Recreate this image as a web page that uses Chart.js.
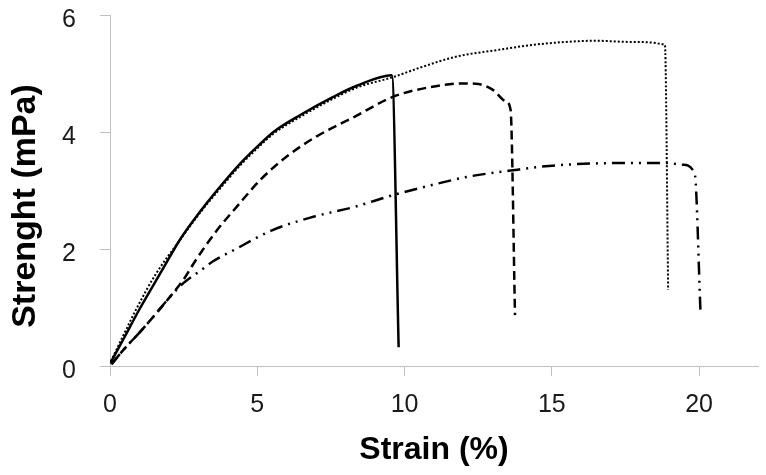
<!DOCTYPE html>
<html>
<head>
<meta charset="utf-8">
<script src="https://cdn.jsdelivr.net/npm/chart.js@4.4.1/dist/chart.umd.min.js"></script>
<style>
  html, body { margin: 0; padding: 0; background: #fff; }
  canvas { display: block; }
</style>
</head>
<body>
<canvas id="stressChart" width="766" height="475"></canvas>
<script>
// Strain (%) / strength (mPa) pairs
const solidStrain = [0.01, 0.5, 1, 1.75, 2.4, 3.06, 3.63, 4.42, 5, 5.55, 6.46, 7.58, 8.38, 9.57, 9.8];
const solidStrength = [0.05, 0.5, 0.97, 1.62, 2.18, 2.64, 3.0, 3.46, 3.75, 4.0, 4.29, 4.6, 4.79, 4.97, 0.32];

const dottedStrain = [0.03, 0.45, 0.9, 1.54, 2.4, 3.06, 3.63, 4.42, 5, 5.55, 6.46, 7.58, 8.38, 9.62, 10.64, 11.77, 13.13, 14.37, 15.5, 16.52, 17.65, 18.84, 18.95];
const dottedStrength = [0.08, 0.52, 0.98, 1.56, 2.17, 2.62, 2.97, 3.43, 3.72, 3.97, 4.26, 4.57, 4.76, 4.94, 5.12, 5.29, 5.4, 5.49, 5.54, 5.56, 5.54, 5.49, 1.3];

const dashedStrain = [0.05, 0.5, 1, 1.5, 2, 2.5, 2.9, 3.6, 4.3, 5.1, 6, 7, 8.3, 9.6, 10.9, 12, 12.5, 13, 13.45, 13.6, 13.75];
const dashedStrength = [0.03, 0.3, 0.57, 0.86, 1.16, 1.48, 1.8, 2.3, 2.72, 3.18, 3.58, 3.92, 4.26, 4.6, 4.77, 4.83, 4.82, 4.72, 4.52, 4.38, 0.87];

const dashDotStrain = [0.05, 0.5, 1, 1.5, 2, 2.5, 3.1, 3.5, 4.2, 5.5, 6.9, 8.3, 9.6, 10.9, 12.2, 13.6, 14.9, 16.3, 17.6, 18.9, 19.45, 19.85, 20.05];
const dashDotStrength = [0.03, 0.3, 0.57, 0.86, 1.16, 1.42, 1.64, 1.79, 1.98, 2.32, 2.55, 2.72, 2.92, 3.09, 3.24, 3.34, 3.42, 3.46, 3.47, 3.47, 3.44, 3.29, 0.9];

const xTicks = [0, 5, 10, 15, 20];
const yTicks = [0, 2, 4, 6];

function toPoints(xs, ys) {
  return xs.map((x, i) => ({ x: x, y: ys[i] }));
}

const axisGrey = '#c0c0c0';
const tickFont = { family: '"Liberation Sans", Arial, sans-serif', size: 25 };

// axis titles drawn by hand so they can sit where the original has them
const axisTitles = {
  id: 'axisTitles',
  afterDraw(chart) {
    const c = chart.ctx;
    c.save();
    c.fillStyle = '#000';
    c.font = 'bold 32px "Liberation Sans", Arial, sans-serif';
    c.textAlign = 'center';
    c.textBaseline = 'alphabetic';
    c.fillText('Strain (%)', 434, 459);
    c.translate(35, 206);
    c.rotate(-Math.PI / 2);
    c.font = 'bold 34px "Liberation Sans", Arial, sans-serif';
    c.fillText('Strenght (mPa)', 0, 0);
    c.restore();
  }
};

const ctx = document.getElementById('stressChart').getContext('2d');
const stressChart = new Chart(ctx, {
  type: 'scatter',
  data: {
    datasets: [
      {
        label: 'Solid',
        data: toPoints(solidStrain, solidStrength),
        borderColor: '#000',
        borderWidth: 2.5,
        showLine: true
      },
      {
        label: 'Dotted',
        data: toPoints(dottedStrain, dottedStrength),
        borderColor: '#000',
        borderWidth: 2,
        borderDash: [2, 2],
        showLine: true
      },
      {
        label: 'Dashed',
        data: toPoints(dashedStrain, dashedStrength),
        borderColor: '#000',
        borderWidth: 2.5,
        borderDash: [9, 5],
        showLine: true
      },
      {
        label: 'Dash-dot',
        data: toPoints(dashDotStrain, dashDotStrength),
        borderColor: '#000',
        borderWidth: 2.5,
        borderDash: [13, 6, 2, 6, 2, 6],
        showLine: true
      }
    ]
  },
  options: {
    responsive: false,
    animation: false,
    devicePixelRatio: 1,
    layout: {
      padding: { top: 15, right: 8, left: 0, bottom: 0 }
    },
    elements: {
      point: { radius: 0, hoverRadius: 0 },
      line: { cubicInterpolationMode: 'monotone', fill: false }
    },
    plugins: {
      legend: { display: false },
      tooltip: { enabled: false }
    },
    scales: {
      x: {
        type: 'linear',
        min: 0,
        max: 22,
        afterBuildTicks: (scale) => { scale.ticks = xTicks.map(v => ({ value: v })); },
        afterFit: (scale) => {
          scale.height = 109;
          scale.paddingLeft = 0;
          scale.paddingRight = 0;
        },
        ticks: { font: tickFont, color: '#1a1a1a', padding: 14 },
        grid: { drawOnChartArea: false, drawTicks: true, tickLength: 10, color: axisGrey },
        border: { display: true, color: axisGrey }
      },
      y: {
        min: 0,
        max: 6,
        afterBuildTicks: (scale) => { scale.ticks = yTicks.map(v => ({ value: v })); },
        afterFit: (scale) => {
          scale.width = 110;
          scale.paddingTop = 0;
          scale.paddingBottom = 0;
        },
        ticks: { font: tickFont, color: '#1a1a1a', padding: 24, labelOffset: 5 },
        grid: { drawOnChartArea: false, drawTicks: true, tickLength: 10, color: axisGrey },
        border: { display: true, color: axisGrey }
      }
    }
  },
  plugins: [axisTitles]
});
</script>
</body>
</html>
